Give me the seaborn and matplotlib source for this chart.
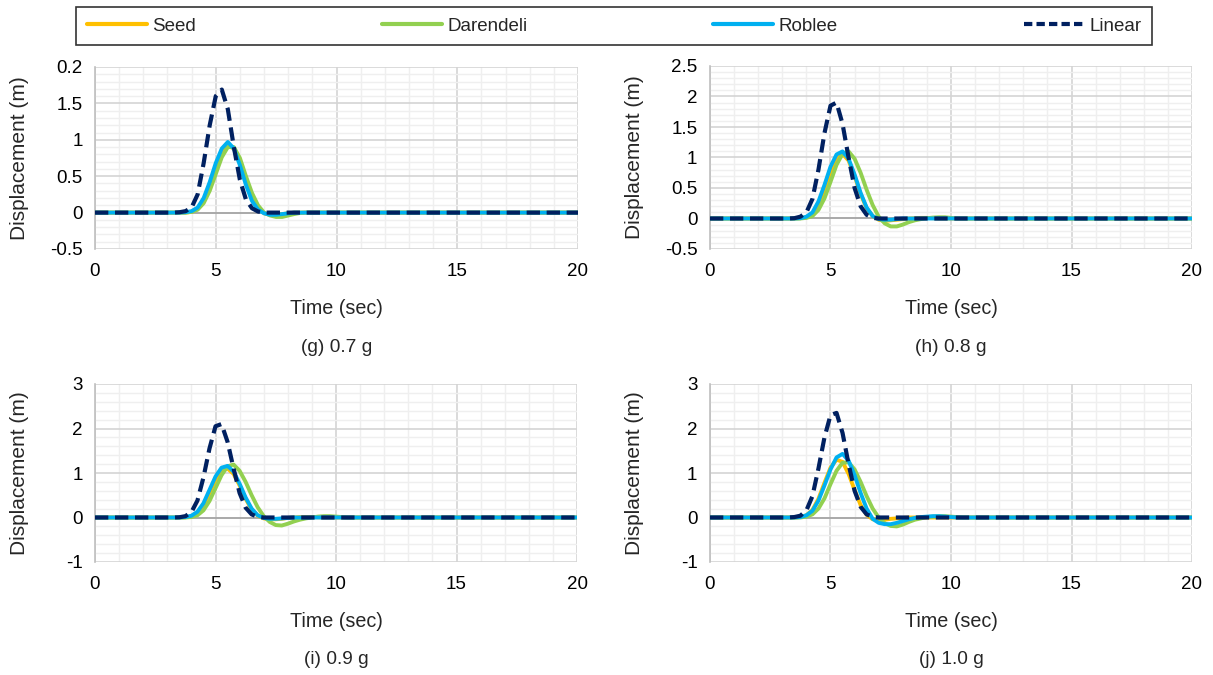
import matplotlib
matplotlib.use("Agg")
import matplotlib.pyplot as plt
from matplotlib.lines import Line2D
from matplotlib.ticker import MultipleLocator
import seaborn as sns

sns.set_theme(style="white")
plt.rcParams['font.family'] = ['Liberation Sans', 'DejaVu Sans']

# ---------------- data ----------------
time = [0, 3.0, 3.25, 3.5, 3.75, 4.0, 4.25, 4.5, 4.75, 5.0, 5.25, 5.5, 5.75, 6.0, 6.25,
        6.5, 6.75, 7.0, 7.25, 7.5, 7.75, 8.0, 8.25, 8.5, 8.75, 9.0, 9.25, 9.5, 9.75,
        10.0, 10.25, 10.5, 20]

series_names = ["Seed", "Darendeli", "Roblee", "Linear"]

# (g) 0.7 g
seed_g = [0, 0, 0, 0, 0, 0.01, 0.05, 0.15, 0.34, 0.58, 0.80, 0.92, 0.88, 0.70, 0.44, 0.20,
          0.06, -0.01, -0.03, -0.03, -0.02, -0.01, 0, 0, 0, 0, 0, 0, 0, 0, 0, 0, 0]
darendeli_g = [0, 0, 0, 0, 0, 0.01, 0.04, 0.13, 0.30, 0.53, 0.76, 0.90, 0.90, 0.75, 0.50, 0.27,
               0.10, 0.0, -0.04, -0.06, -0.06, -0.04, -0.02, -0.005, 0, 0, 0, 0, 0, 0, 0, 0, 0]
roblee_g = [0, 0, 0, 0, 0.005, 0.02, 0.07, 0.20, 0.42, 0.68, 0.88, 0.97, 0.88, 0.65, 0.38, 0.16,
            0.04, -0.01, -0.03, -0.03, -0.02, -0.01, 0, 0, 0, 0, 0, 0, 0, 0, 0, 0, 0]
linear_g = [0, 0, 0, 0.005, 0.02, 0.07, 0.25, 0.68, 1.20, 1.60, 1.69, 1.42, 0.90, 0.45, 0.18, 0.06,
            0.015, 0, 0, 0, 0, 0, 0, 0, 0, 0, 0, 0, 0, 0, 0, 0, 0]

# (h) 0.8 g
seed_h = [0, 0, 0, 0, 0.005, 0.02, 0.07, 0.22, 0.47, 0.76, 0.98, 1.06, 0.95, 0.70, 0.40, 0.17,
          0.04, -0.02, -0.04, -0.03, -0.02, -0.01, 0, 0.005, 0.01, 0.01, 0.005, 0, 0, 0, 0, 0, 0]
darendeli_h = [0, 0, 0, 0, 0, 0.01, 0.04, 0.14, 0.33, 0.60, 0.88, 1.06, 1.10, 0.98, 0.75, 0.47,
               0.22, 0.03, -0.08, -0.13, -0.13, -0.10, -0.06, -0.03, -0.01, 0.005, 0.015, 0.02,
               0.02, 0.01, 0, 0, 0]
roblee_h = [0, 0, 0, 0, 0.005, 0.03, 0.10, 0.28, 0.55, 0.85, 1.05, 1.10, 0.98, 0.72, 0.42, 0.18,
            0.04, -0.01, -0.02, -0.02, -0.01, 0, 0, 0, 0, 0, 0, 0, 0, 0, 0, 0, 0]
linear_h = [0, 0, 0, 0.005, 0.03, 0.10, 0.32, 0.80, 1.40, 1.85, 1.90, 1.55, 1.00, 0.50, 0.20, 0.06,
            0.01, 0, 0, 0, 0, 0, 0, 0, 0, 0, 0, 0, 0, 0, 0, 0, 0]

# (i) 0.9 g
seed_i = [0, 0, 0, 0, 0.005, 0.03, 0.10, 0.27, 0.55, 0.85, 1.06, 1.10, 0.98, 0.72, 0.42, 0.18,
          0.04, -0.02, -0.04, -0.04, -0.03, -0.01, 0, 0.01, 0.01, 0.01, 0.005, 0, 0, 0, 0, 0, 0]
darendeli_i = [0, 0, 0, 0, 0, 0.01, 0.05, 0.16, 0.37, 0.66, 0.95, 1.15, 1.19, 1.05, 0.80, 0.50,
               0.23, 0.03, -0.10, -0.17, -0.18, -0.14, -0.09, -0.05, -0.02, 0.0, 0.02, 0.03,
               0.03, 0.02, 0.01, 0, 0]
roblee_i = [0, 0, 0, 0, 0.01, 0.04, 0.13, 0.32, 0.62, 0.92, 1.12, 1.16, 1.03, 0.76, 0.45, 0.20,
            0.05, -0.01, -0.03, -0.03, -0.02, -0.01, 0, 0, 0, 0, 0, 0, 0, 0, 0, 0, 0]
linear_i = [0, 0, 0, 0.005, 0.03, 0.12, 0.38, 0.90, 1.55, 2.05, 2.10, 1.70, 1.10, 0.55, 0.22, 0.07,
            0.015, 0, 0, 0, 0, 0, 0, 0, 0, 0, 0, 0, 0, 0, 0, 0, 0]

# (j) 1.0 g
seed_j = [0, 0, 0, 0, 0.01, 0.05, 0.17, 0.42, 0.78, 1.12, 1.30, 1.25, 0.98, 0.62, 0.28, 0.06,
          -0.04, -0.06, -0.05, -0.03, -0.02, -0.01, 0, 0, 0, 0, 0, 0, 0, 0, 0, 0, 0]
darendeli_j = [0, 0, 0, 0, 0, 0.02, 0.07, 0.20, 0.43, 0.75, 1.05, 1.23, 1.24, 1.08, 0.80, 0.48,
               0.20, 0.0, -0.13, -0.19, -0.20, -0.16, -0.10, -0.05, -0.02, 0.01, 0.02, 0.03,
               0.03, 0.02, 0.01, 0, 0]
roblee_j = [0, 0, 0, 0, 0.01, 0.05, 0.15, 0.38, 0.72, 1.08, 1.35, 1.43, 1.28, 0.95, 0.55, 0.20,
            -0.03, -0.12, -0.15, -0.15, -0.12, -0.08, -0.04, -0.01, 0.01, 0.02, 0.03, 0.03,
            0.02, 0.01, 0, 0, 0]
linear_j = [0, 0, 0, 0.01, 0.04, 0.16, 0.48, 1.10, 1.80, 2.30, 2.35, 1.90, 1.20, 0.60, 0.24, 0.07,
            0.015, 0, 0, 0, 0, 0, 0, 0, 0, 0, 0, 0, 0, 0, 0, 0, 0]

captions = ["(g) 0.7 g", "(h) 0.8 g", "(i) 0.9 g", "(j) 1.0 g"]
y_ticks_g = [-0.5, 0, 0.5, 1, 1.5, 2]
y_labels_g = ["-0.5", "0", "0.5", "1", "1.5", "0.2"]
y_ticks_h = [-0.5, 0, 0.5, 1, 1.5, 2, 2.5]
y_labels_h = ["-0.5", "0", "0.5", "1", "1.5", "2", "2.5"]
y_ticks_ij = [-1, 0, 1, 2, 3]
y_labels_ij = ["-1", "0", "1", "2", "3"]
x_ticks = [0, 5, 10, 15, 20]

# ---------------- style ----------------
colors = {"Seed": "#FFC000", "Darendeli": "#92D050", "Roblee": "#00B0F0", "Linear": "#002060"}

panels = [
    dict(data=[seed_g, darendeli_g, roblee_g, linear_g], yt=y_ticks_g, yl=y_labels_g,
         minor=0.1, rect=[95, 67, 578, 249], ylab_x=29),
    dict(data=[seed_h, darendeli_h, roblee_h, linear_h], yt=y_ticks_h, yl=y_labels_h,
         minor=0.1, rect=[710, 66, 1192, 249], ylab_x=644),
    dict(data=[seed_i, darendeli_i, roblee_i, linear_i], yt=y_ticks_ij, yl=y_labels_ij,
         minor=0.2, rect=[95, 384, 577, 562], ylab_x=29),
    dict(data=[seed_j, darendeli_j, roblee_j, linear_j], yt=y_ticks_ij, yl=y_labels_ij,
         minor=0.2, rect=[710, 384, 1192, 562], ylab_x=644),
]

W, H = 1213, 675
fig = plt.figure(figsize=(W / 100, H / 100), dpi=100)

for k, p in enumerate(panels):
    x0, y0, x1, y1 = p["rect"]
    ax = fig.add_axes([x0 / W, 1 - y1 / H, (x1 - x0) / W, (y1 - y0) / H])
    for arr in p["data"]:
        assert len(arr) == len(time)
    ax.xaxis.set_minor_locator(MultipleLocator(1))
    ax.yaxis.set_minor_locator(MultipleLocator(p["minor"]))
    ax.grid(which="minor", color="#EFEFEF", lw=1.0)
    ax.grid(which="major", color="#D4D4D4", lw=1.2)
    ax.set_axisbelow(True)
    ax.axhline(0, color="#A6A6A6", lw=1.3, zorder=1)
    for name, arr in zip(series_names, p["data"]):
        if name == "Linear":
            sns.lineplot(x=time, y=arr, ax=ax, color=colors[name], lw=3.0,
                         linestyle=(0, (3.2, 1.6)), zorder=5)
        else:
            sns.lineplot(x=time, y=arr, ax=ax, color=colors[name], lw=2.8, zorder=3)
    ax.set_xlim(0, 20)
    ax.set_ylim(p["yt"][0], p["yt"][-1])
    ax.set_xticks(x_ticks)
    ax.set_xticklabels([str(v) for v in x_ticks])
    ax.set_yticks(p["yt"])
    ax.set_yticklabels(p["yl"])
    ax.tick_params(axis="both", which="major", labelsize=13.5, colors="#000000")
    ax.tick_params(axis="y", which="major", length=6, width=1, color="#BFBFBF", direction="out", pad=3)
    ax.tick_params(axis="x", which="major", length=0, pad=10)
    ax.tick_params(which="minor", length=0)
    for side in ["top", "right", "bottom"]:
        ax.spines[side].set_visible(False)
    ax.spines["left"].set_color("#BFBFBF")
    ax.spines["left"].set_linewidth(1.2)
    ax.set_xlabel("Time (sec)", fontsize=14.2, labelpad=14)
    ax.set_ylabel("Displacement (m)", fontsize=15)
    ax.yaxis.set_label_coords((p["ylab_x"] - x0) / (x1 - x0), 0.5)
    cx = (x0 + x1) / 2
    cap_y = 348 if k < 2 else 660
    fig.text(cx / W, 1 - cap_y / H, captions[k], ha="center", va="center", fontsize=13.8)

# legend
handles = [
    Line2D([0], [0], color=colors["Seed"], lw=3),
    Line2D([0], [0], color=colors["Darendeli"], lw=3),
    Line2D([0], [0], color=colors["Roblee"], lw=3),
    Line2D([0], [0], color=colors["Linear"], lw=3, linestyle=(0, (2, 1))),
]
leg = fig.legend(handles, series_names, loc="center",
                 bbox_to_anchor=(614 / W, 1 - 26 / H), ncol=4, frameon=True,
                 fontsize=13.5, handlelength=3.2, handletextpad=0.3, columnspacing=9.9,
                 borderpad=0.55, fancybox=False)
leg.get_frame().set_edgecolor("#000000")
leg.get_frame().set_linewidth(1.2)

fig.savefig("out.png", dpi=100)
